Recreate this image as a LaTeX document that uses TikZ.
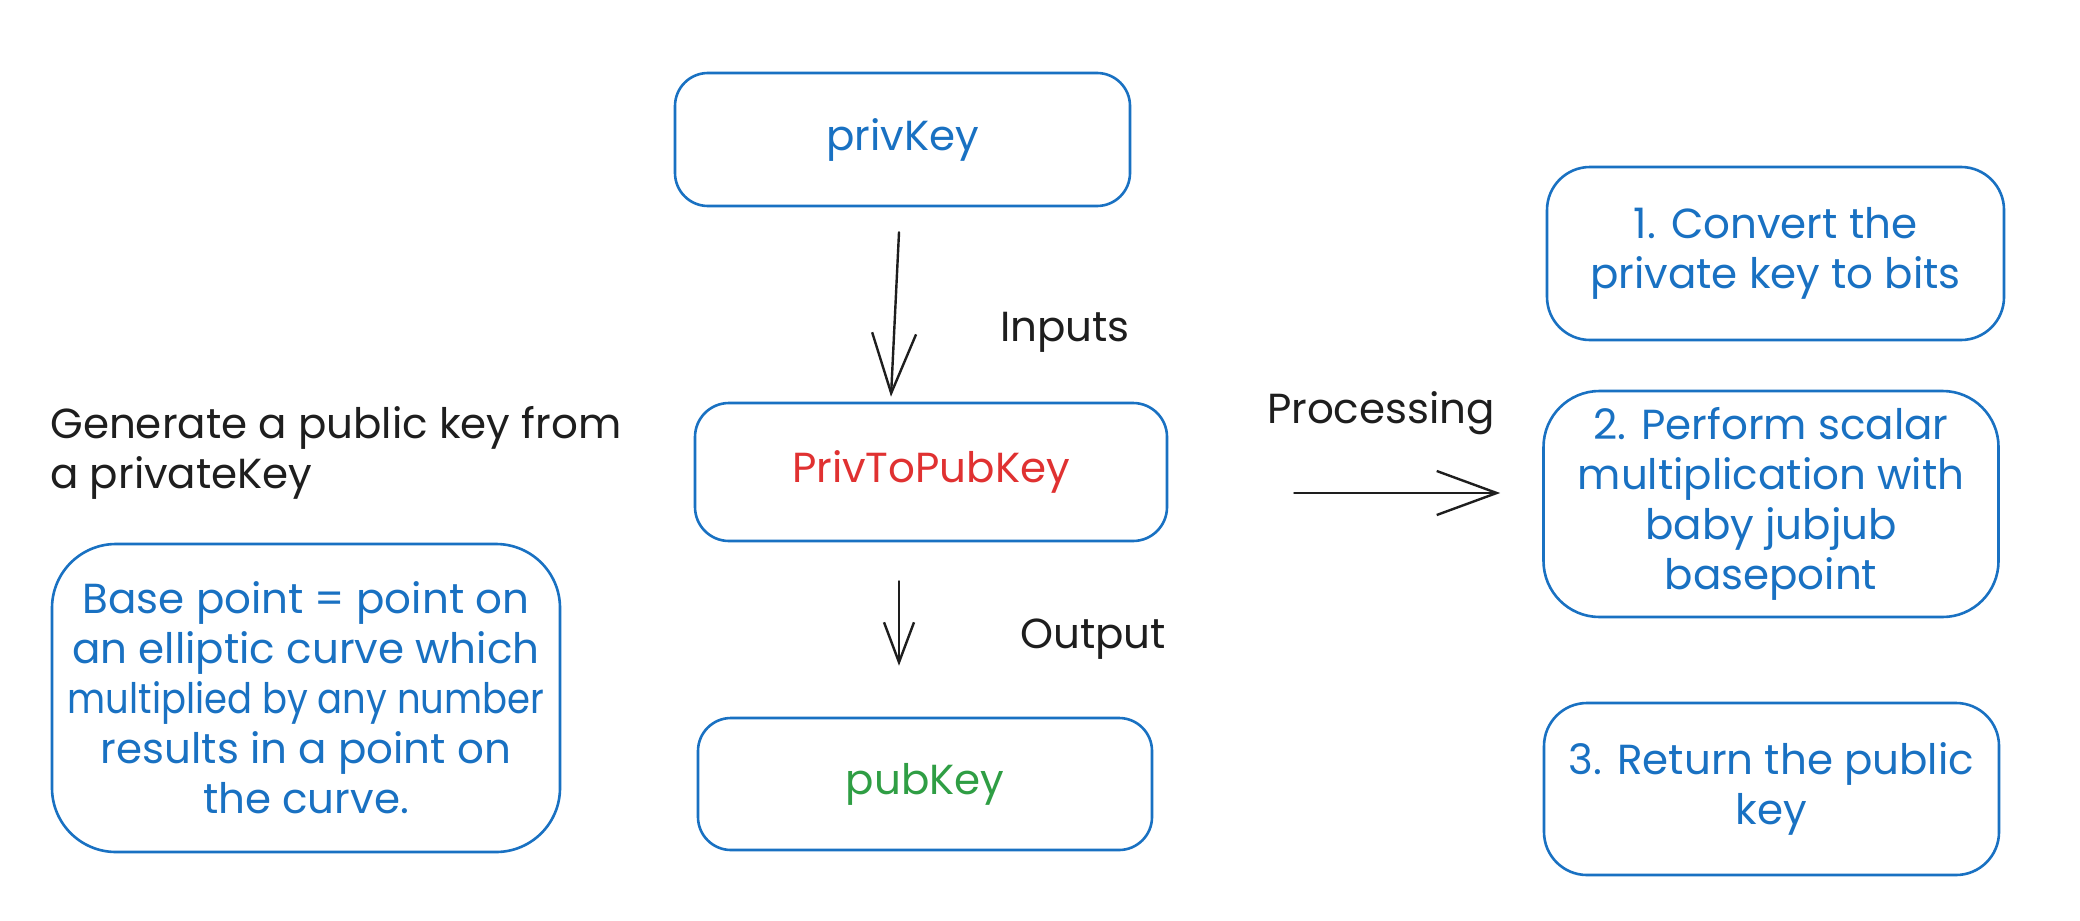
\documentclass[tikz,border=0pt]{standalone}
\usepackage{fontspec}
\setmainfont{Poppins}
\usetikzlibrary{arrows.meta,calc}
\definecolor{exblue}{HTML}{1971C2}
\definecolor{exred}{HTML}{E03131}
\definecolor{exgreen}{HTML}{2F9E44}
\definecolor{exblack}{HTML}{1E1E1E}
\tikzset{
  x=0.5pt, y=-0.5pt,
  txt/.style={font=\fontsize{21pt}{25pt}\selectfont, inner sep=0pt},
  card/.style={draw=exblue, line width=1.3pt, txt, align=center, text=exblue},
  lbl/.style={txt, text=exblack},
  arr/.style={draw=exblack, line width=1.2pt, line cap=round, -{Straight Barb[length=30pt,width=22pt,line width=1.2pt]}},
  arrsmall/.style={draw=exblack, line width=1.2pt, line cap=round, -{Straight Barb[length=20pt,width=15pt,line width=1.2pt]}},
}
\begin{document}
\begin{tikzpicture}
\useasboundingbox[fill=white] (0,0) rectangle (2080,920);
% central column
\node[card, minimum width=227.5pt, minimum height=66.5pt, rounded corners=16.5pt] (priv) at (902.5,139.5) {privKey};
\node[card, minimum width=236pt, minimum height=69pt, rounded corners=17pt, text=exred] (core) at (931,472) {PrivToPubKey};
\node[card, minimum width=227pt, minimum height=66pt, rounded corners=16.5pt, text=exgreen] (pub) at (925,784) {pubKey};
% left
\node[lbl, anchor=west, align=left] (desc) at (50,453) {Generate a public key from\\a privateKey};
\node[card, minimum width=254pt, minimum height=154pt, rounded corners=32pt] (base) at (306,698)
  {Base point = point on\\an elliptic curve which\\\scalebox{0.88}[1]{multiplied by any number}\\results in a point on\\the curve.};
% right
\node[card, minimum width=228.5pt, minimum height=86.5pt, rounded corners=21.5pt] (step1) at (1775.5,253.5)
  {1. Convert the\\private key to bits};
\node[card, minimum width=227.5pt, minimum height=113pt, rounded corners=28pt] (step2) at (1771,504)
  {2. Perform scalar\\multiplication with\\baby jubjub\\basepoint};
\node[card, minimum width=227.5pt, minimum height=86pt, rounded corners=21.5pt] (step3) at (1771.5,789)
  {3. Return the public\\key};
% labels
\node[lbl] (inputs) at (1065,332) {Inputs};
\node[lbl] (output) at (1093,639) {Output};
\node[lbl] (proc) at (1381,413) {Processing};
% arrows
\draw[arr] ($(priv.south)+(-3.5,25)$) -- ($(core.north)+(-40,-5)$);
\draw[arrsmall] ($(core.south)+(-32,39)$) -- ($(pub.north)+(-26,-51)$);
\draw[arr] ($(core.east)+(126,21)$) -- ($(step2.west)+(-42,-11)$);
\end{tikzpicture}
\end{document}
